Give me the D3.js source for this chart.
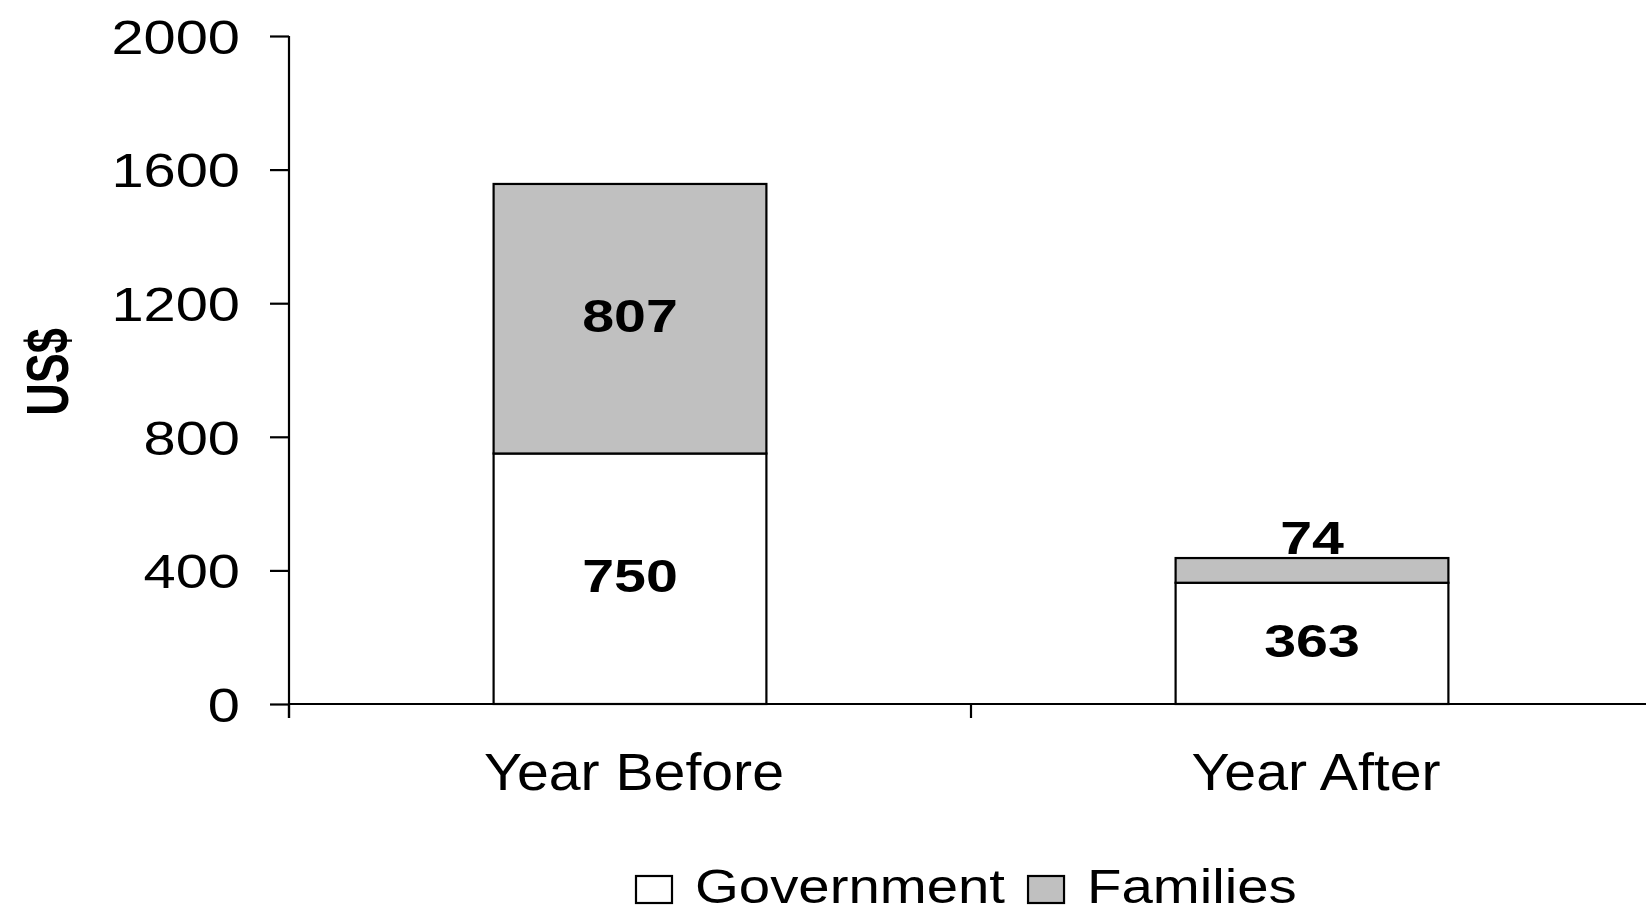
<!DOCTYPE html>
<html>
<head>
<meta charset="utf-8">
<script src="https://cdn.jsdelivr.net/npm/d3@7"></script>
<style>
  html, body { margin: 0; padding: 0; background: #fff; }
  svg { display: block; }
  text { font-family: "Liberation Sans", Arial, Helvetica, sans-serif; fill: #000; }
</style>
</head>
<body>
<svg id="chart" width="1646" height="909"></svg>
<script>
// Spending per case, split by who paid
const categories = ["Year Before", "Year After"];
const government = [750, 363];
const families = [807, 74];
const yTicks = [0, 400, 800, 1200, 1600, 2000];
const seriesNames = ["Government", "Families"];
const seriesColors = ["#ffffff", "#c0c0c0"];

const svg = d3.select("#chart");
const W = 1646;

const plot = { left: 289, top: 36, bottom: 704 };

const y = d3.scaleLinear().domain([0, 2000]).range([plot.bottom, plot.top]);
const x = d3.scaleBand().domain(categories).range([plot.left, plot.left + 2 * 682]).padding(0);
const barW = x.bandwidth() * 0.4;

// place text at (px,py) and widen it horizontally
function stretchedText(g, px, py, str, opts) {
  return g.append("text")
    .attr("transform", `translate(${px},${py}) scale(${opts.sx || 1},1)${opts.rotate ? ` rotate(${opts.rotate})` : ""}`)
    .attr("text-anchor", opts.anchor || "middle")
    .attr("dominant-baseline", opts.baseline || "auto")
    .style("font-size", opts.size + "px")
    .style("font-weight", opts.weight || "normal")
    .text(str);
}

// stacked bars
const stackData = categories.map((c, i) => ({ cat: c, Government: government[i], Families: families[i] }));
const stacked = d3.stack().keys(seriesNames)(stackData);

const bars = svg.append("g");
stacked.forEach((layer, li) => {
  bars.selectAll(null)
    .data(layer)
    .join("rect")
    .attr("x", d => x(d.data.cat) + (x.bandwidth() - barW) / 2)
    .attr("width", barW)
    .attr("y", d => y(d[1]))
    .attr("height", d => y(d[0]) - y(d[1]))
    .attr("fill", seriesColors[li])
    .attr("stroke", "#000")
    .attr("stroke-width", 2.2);
});

// y axis
const yAxis = d3.axisLeft(y).tickValues(yTicks).tickSize(19).tickSizeOuter(0);
const yg = svg.append("g").attr("transform", `translate(${plot.left},0)`).call(yAxis);
yg.select(".domain").remove();
yg.selectAll(".tick line").attr("stroke", "#000").attr("stroke-width", 2.2);
yg.selectAll(".tick text").remove();
yg.selectAll(".tick").each(function (d) {
  stretchedText(d3.select(this), -49, 0, d, { size: 49, sx: 1.18, anchor: "end", baseline: "central" });
});

// axis lines
svg.append("line")
  .attr("x1", plot.left).attr("x2", plot.left)
  .attr("y1", y(2000)).attr("y2", y(0) + 14)
  .attr("stroke", "#000").attr("stroke-width", 2.2);
svg.append("line")
  .attr("x1", plot.left).attr("x2", W)
  .attr("y1", y(0)).attr("y2", y(0))
  .attr("stroke", "#000").attr("stroke-width", 2.2);

// ticks on the category boundaries
svg.append("g").selectAll("line")
  .data(categories)
  .join("line")
  .attr("x1", d => x(d)).attr("x2", d => x(d))
  .attr("y1", y(0)).attr("y2", y(0) + 14)
  .attr("stroke", "#000").attr("stroke-width", 2.2);

// category labels
const catG = svg.append("g");
categories.forEach(c => {
  stretchedText(catG, x(c) + x.bandwidth() / 2 + 4, 790, c, { size: 52, sx: 1.1 });
});

// value labels
const labG = svg.append("g");
categories.forEach((c, i) => {
  const cx = x(c) + x.bandwidth() / 2;
  const g0 = y(0), g1 = y(government[i]), f1 = y(government[i] + families[i]);
  stretchedText(labG, cx, (g0 + g1) / 2 - 3, government[i], { size: 47, sx: 1.22, weight: "bold", baseline: "central" });
  if (g1 - f1 > 60) {
    stretchedText(labG, cx, (g1 + f1) / 2 - 3, families[i], { size: 47, sx: 1.22, weight: "bold", baseline: "central" });
  } else {
    stretchedText(labG, cx, f1 - 4, families[i], { size: 47, sx: 1.22, weight: "bold" });
  }
});

// y axis title
stretchedText(svg, 48, 372, "US$", { size: 45, sx: 1.3, weight: "bold", rotate: -90, baseline: "central" });

// legend
const leg = svg.append("g");
const legSx = 1.15;
let lx = 636;
seriesNames.forEach((name, i) => {
  leg.append("rect")
    .attr("x", lx).attr("y", 876)
    .attr("width", 36).attr("height", 27)
    .attr("fill", seriesColors[i])
    .attr("stroke", "#000").attr("stroke-width", 2.2);
  const t = stretchedText(leg, lx + 59, 903, name, { size: 49, sx: legSx, anchor: "start" });
  lx += 59 + t.node().getComputedTextLength() * legSx + 23;
});
</script>
</body>
</html>
